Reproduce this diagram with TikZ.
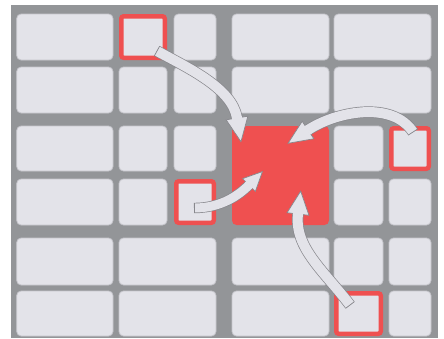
\documentclass[tikz,border=0pt]{standalone}
\usetikzlibrary{calc}
\definecolor{bggray}{HTML}{939598}
\definecolor{cellfill}{HTML}{E3E3E9}
\definecolor{cellline}{HTML}{C6C6CC}
\definecolor{hlred}{HTML}{EF5050}
\definecolor{arrowline}{HTML}{88888D}
\newcommand\blockarrow[8]{%
  % #1 start, #2 c1, #3 c2, #4 end, #5 body half width, #6 head length, #7 head half width, #8 body width
  \draw[arrowline, line width=#8+1.4pt] (#1) .. controls (#2) and (#3) .. (#4);
  \draw[cellfill, line width=#8] (#1) .. controls (#2) and (#3) .. (#4);
  \draw[arrowline, line width=0.7pt] ($(#1)!#5!90:(#2)$) -- ($(#1)!#5!-90:(#2)$);
  \draw[arrowhd] ($(#4)!#7!90:(#3)$) -- ($(#4)!#6!180:(#3)$) -- ($(#4)!#7!-90:(#3)$) -- cycle;
  \draw[cellfill, line width=#8] ($(#4)!1.2pt!(#3)$) -- ($(#4)!1.2pt!180:(#3)$);
}
\begin{document}
\begin{tikzpicture}[x=1pt,y=-1pt,
  cell/.style={fill=cellfill,draw=cellline,line width=0.8pt,rounded corners=4.5pt},
  hlcell/.style={fill=cellfill,draw=hlred,line width=4.5pt,rounded corners=2.5pt},
  bigred/.style={fill=hlred,draw=none,rounded corners=4.5pt},
  arrowhd/.style={fill=cellfill,draw=arrowline,line width=0.7pt,line join=miter}]
\useasboundingbox (0,0) rectangle (444,338);
\fill[white] (0,0) rectangle (444,338);
\fill[bggray] (11,5) rectangle (438,338);
% plain cells
\foreach \xa/\ya/\xb/\yb in {
  16.7/14/113/60, 174/14/216/60, 232/14/329/60, 334/14/431/60,
  16.7/67/113/113, 119/67/167/113, 174/67/216/113, 232/67/329/113, 334/67/431/113,
  16.7/126/113/171, 119/126/167/171, 174/126/216/171, 334/126/383/171,
  16.7/179/113/225, 119/179/167/225, 334/179/383/225, 389/179/431/225,
  16.7/238/113/285, 119/238/216/285, 232/238/329/285, 334/238/383/285, 389/238/431/285,
  16.7/291/113/336, 119/291/216/336, 232/291/329/336, 389/291/431/336}
  \draw[cell] (\xa,\ya) rectangle (\xb,\yb);
% highlighted cells
\draw[hlcell] (121.25,16.25) rectangle (164.75,57.75);
\draw[hlcell] (176.25,181.25) rectangle (213.75,222.75);
\draw[hlcell] (391.25,128.25) rectangle (428.75,168.75);
\draw[hlcell] (336.25,293.25) rectangle (380.75,333.75);
% target cell
\draw[bigred] (232,126) rectangle (329,225);
% arrow coordinates
\coordinate (a1s) at (157,51);  \coordinate (a1p) at (188,68);  \coordinate (a1q) at (232,88);  \coordinate (a1e) at (237,118);
\coordinate (a2s) at (413,132); \coordinate (a2p) at (392,100); \coordinate (a2q) at (335,112); \coordinate (a2e) at (308,130);
\coordinate (a3s) at (194,208); \coordinate (a3p) at (218,208); \coordinate (a3q) at (236,198); \coordinate (a3e) at (249,185);
\coordinate (a4s) at (350,305); \coordinate (a4p) at (325,272); \coordinate (a4q) at (294,248); \coordinate (a4e) at (298,214);
\blockarrow{a1s}{a1p}{a1q}{a1e}{5.5pt}{24pt}{11pt}{10pt}
\blockarrow{a2s}{a2p}{a2q}{a2e}{5.5pt}{24pt}{10.5pt}{10pt}
\blockarrow{a3s}{a3p}{a3q}{a3e}{5pt}{19pt}{9pt}{9pt}
\blockarrow{a4s}{a4p}{a4q}{a4e}{5.5pt}{23pt}{11pt}{10pt}
\end{tikzpicture}
\end{document}
